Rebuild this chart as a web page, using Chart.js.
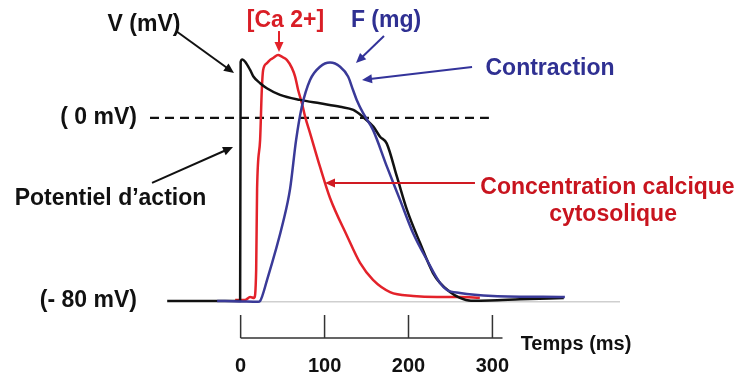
<!DOCTYPE html>
<html>
<head>
<meta charset="utf-8">
<script src="https://cdn.jsdelivr.net/npm/chart.js@4.4.1/dist/chart.umd.min.js"></script>
<style>
html,body{margin:0;padding:0;background:#ffffff;}
#wrap{width:742px;height:378px;position:relative;}
</style>
</head>
<body>
<div id="wrap"><canvas id="c" width="742" height="378"></canvas></div>
<script>
// ---- Data (time in ms, values on the mV scale of the schematic) ----
const timeV = [-87.5, -3, -0.6, 0, 2.1, 5.4, 11.3, 15.2, 23.2, 31.2, 47.0, 70.8, 94.6, 118.5, 134.3, 146.2, 158.1, 166.1, 174.0, 186.3, 198.2, 213.7, 229.2, 237.5, 249.4, 261.3, 274.4, 297, 333, 385];
const potentialV = [-80, -80, -80, 24.5, 25.6, 24.6, 21.0, 18.1, 15.2, 13.0, 10.1, 7.9, 6.4, 4.9, 3.5, 0.3, -3.8, -8.2, -11.1, -25.8, -40.2, -54.6, -67.8, -72.1, -76.1, -78.7, -79.9, -79.8, -79.3, -78.7];

const timeCa = [-6.5, 5.4, 11.3, 16.1, 18.5, 19.6, 23.2, 25.2, 26.8, 31.2, 35.1, 38.7, 44.6, 49.0, 55.0, 61.0, 64.9, 68.5, 72.9, 76.8, 82.7, 94.6, 106.5, 126.8, 142.3, 157.7, 178.0, 205.4, 234.0, 261.3, 285];
const calcium = [-79.6, -79.6, -78.3, -78.7, -66.4, -31.0, -9.6, 12.2, 21.0, 23.9, 25.4, 26.2, 27.5, 26.8, 25.4, 21.9, 18.1, 12.2, 6.6, 0.6, -6.6, -21.4, -35.0, -51.6, -63.4, -70.8, -76.1, -77.8, -78.3, -78.3, -78.6];

const timeF = [-28.0, -0.6, 20.8, 23.2, 31.5, 50.6, 58.9, 66.1, 72.9, 82.7, 94.6, 106.5, 118.5, 128.0, 133.9, 138.3, 145.8, 157.7, 174.4, 189.9, 205.4, 222.0, 237.5, 245.8, 261.3, 300.6, 386.3];
const force = [-80, -80.2, -80.4, -80, -70.8, -45.5, -31.0, -9.6, 4.9, 16.6, 22.4, 24.2, 22.4, 18.1, 12.2, 7.9, 2.2, -5.2, -21.4, -35.8, -50.3, -62.1, -72.1, -75.2, -76.5, -77.8, -78.3];

const timeBase = [0, 452];
const baseLevel = [-80.4, -80.4];
const timeZero = [-108, 295.8];
const zeroLevel = [0, 0];

const xTickValues = [0, 100, 200, 300];
const yTickValues = [0, -80];
const yTickLabels = ['( 0 mV)', '(- 80 mV)'];

// annotation texts [text, x(ms), y(mV), color, size]
const labelTexts = [
  ['V (mV)', -115.1, 40.8, '#111111', 23],
  ['[Ca 2+]', 53.4, 42.6, '#d91e26', 23],
  ['F (mg)', 173.2, 42.6, '#2f3092', 23],
  ['Contraction', 368.6, 21.6, '#2f3092', 23],
  ['Potentiel d\u2019action', -155.1, -35.3, '#111111', 23],
  ['Concentration calcique', 437.1, -30.4, '#c8141e', 23],
  ['cytosolique', 443.7, -42.2, '#c8141e', 23],
  ['Temps (ms)', 399.6, -99.0, '#111111', 20]
];
// arrows [x1, y1, x2, y2, color]
const arrows = [
  [-77.0, 38.0, -7.9, 19.7, '#111111'],
  [-105.6, -28.4, -9.1, -12.7, '#111111'],
  [45.7, 38.0, 45.7, 28.8, '#e3222a'],
  [170.8, 35.8, 137.4, 24.0, '#33339a'],
  [275.7, 22.3, 144.6, 16.6, '#33339a'],
  [279.2, -28.4, 100.5, -28.4, '#d01a22']
];
const axisEnd = 312;

const FONT = "'Liberation Sans', Arial, Helvetica, sans-serif";
const pts = (xs, ys) => xs.map((x, i) => ({x: x, y: ys[i]}));

const annot = {
  id: 'annot',
  afterDatasetsDraw(chart) {
    const ctx = chart.ctx;
    const xs = chart.scales.x, ys = chart.scales.y;
    const bottom = chart.chartArea.bottom;
    ctx.save();
    // time axis bracket
    ctx.strokeStyle = '#333333';
    ctx.lineWidth = 1.5;
    ctx.beginPath();
    ctx.moveTo(xs.getPixelForValue(xTickValues[0]), bottom);
    ctx.lineTo(xs.getPixelForValue(axisEnd), bottom);
    xTickValues.forEach(v => {
      const p = xs.getPixelForValue(v);
      ctx.moveTo(p, bottom);
      ctx.lineTo(p, bottom - 23);
    });
    ctx.stroke();
    // arrows
    arrows.forEach(a => {
      const x1 = xs.getPixelForValue(a[0]), y1 = ys.getPixelForValue(a[1]);
      const x2 = xs.getPixelForValue(a[2]), y2 = ys.getPixelForValue(a[3]);
      const ang = Math.atan2(y2 - y1, x2 - x1);
      const hl = 10, hw = 4.5;
      ctx.strokeStyle = a[4];
      ctx.fillStyle = a[4];
      ctx.lineWidth = 2;
      ctx.beginPath();
      ctx.moveTo(x1, y1);
      ctx.lineTo(x2 - Math.cos(ang) * hl * 0.8, y2 - Math.sin(ang) * hl * 0.8);
      ctx.stroke();
      ctx.beginPath();
      ctx.moveTo(x2, y2);
      ctx.lineTo(x2 - Math.cos(ang) * hl - Math.sin(ang) * hw, y2 - Math.sin(ang) * hl + Math.cos(ang) * hw);
      ctx.lineTo(x2 - Math.cos(ang) * hl + Math.sin(ang) * hw, y2 - Math.sin(ang) * hl - Math.cos(ang) * hw);
      ctx.closePath();
      ctx.fill();
    });
    // texts
    ctx.textAlign = 'center';
    ctx.textBaseline = 'middle';
    labelTexts.forEach(t => {
      ctx.font = 'bold ' + t[4] + 'px ' + FONT;
      ctx.fillStyle = t[3];
      ctx.fillText(t[0], xs.getPixelForValue(t[1]), ys.getPixelForValue(t[2]));
    });
    ctx.restore();
  }
};

new Chart(document.getElementById('c'), {
  type: 'line',
  data: {
    datasets: [
      {label: 'F (mg)', data: pts(timeF, force), borderColor: '#3a3a98', borderWidth: 2.5, order: 1},
      {label: 'Potentiel d\u2019action', data: pts(timeV, potentialV), borderColor: '#111111', borderWidth: 2.5, order: 2},
      {label: '[Ca 2+]', data: pts(timeCa, calcium), borderColor: '#e3222a', borderWidth: 2.5, order: 3},
      {label: 'base', data: pts(timeBase, baseLevel), borderColor: '#cfcfcf', borderWidth: 1.5, order: 5, cubicInterpolationMode: 'default', tension: 0},
      {label: '0 mV', data: pts(timeZero, zeroLevel), borderColor: '#111111', borderWidth: 2.2, borderDash: [9, 6], order: 4, cubicInterpolationMode: 'default', tension: 0}
    ]
  },
  options: {
    responsive: false,
    animation: false,
    devicePixelRatio: 1,
    layout: {padding: {left: 0, right: 122, top: 10, bottom: 0}},
    plugins: {legend: {display: false}, tooltip: {enabled: false}},
    elements: {
      point: {radius: 0, hoverRadius: 0},
      line: {cubicInterpolationMode: 'monotone', fill: false, borderJoinStyle: 'round'}
    },
    scales: {
      x: {
        type: 'linear', min: -108, max: 452,
        afterBuildTicks: s => { s.ticks = xTickValues.map(v => ({value: v})); },
        afterFit: s => { s.height = 40; s.paddingLeft = 0; s.paddingRight = 0; },
        grid: {display: false, drawTicks: false},
        border: {display: false},
        ticks: {padding: 16, color: '#111111', maxRotation: 0, autoSkip: false,
                font: {family: FONT, size: 20, weight: 'bold'},
                callback: v => String(v)}
      },
      y: {
        type: 'linear', min: -96.2, max: 47.2,
        afterBuildTicks: s => { s.ticks = yTickValues.map(v => ({value: v})); },
        afterFit: s => { s.width = 150; s.paddingTop = 0; s.paddingBottom = 0; },
        grid: {display: false, drawTicks: false},
        border: {display: false},
        ticks: {padding: 13, color: '#111111', autoSkip: false,
                font: {family: FONT, size: 23, weight: 'bold'},
                callback: v => yTickLabels[yTickValues.indexOf(v)]}
      }
    }
  },
  plugins: [annot]
});
</script>
</body>
</html>
